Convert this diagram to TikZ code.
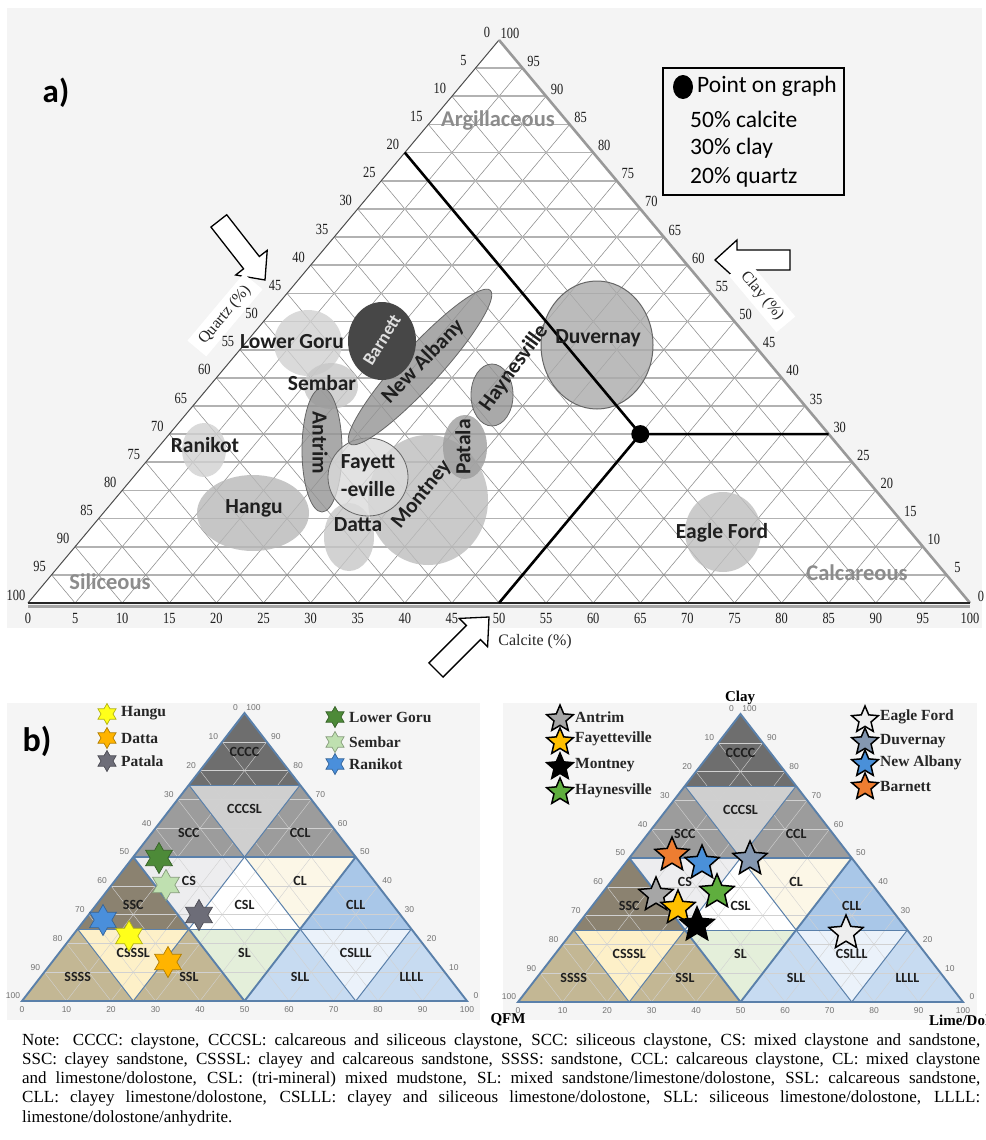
\documentclass[tikz,border=0pt]{standalone}
\usepackage{fontspec}
\setmainfont{Liberation Serif}
\newfontfamily\calf{Carlito}
\newfontfamily\tickf{Liberation Serif}[FakeStretch=0.8]
\newfontfamily\lsans{Liberation Sans}
\usetikzlibrary{shapes.geometric}
\definecolor{bgA}{HTML}{F4F4F4}
\definecolor{bgB}{HTML}{F5F5F5}
\definecolor{bord}{HTML}{5A80AA}
\definecolor{cCCCC}{HTML}{6E6E6E}
\definecolor{cSCC}{HTML}{9C9C9C}
\definecolor{cCCCSL}{HTML}{CFCFCF}
\definecolor{cSSC}{HTML}{8B8270}
\definecolor{cCS}{HTML}{EDEDEF}
\definecolor{cCL}{HTML}{FCF7E7}
\definecolor{cCLL}{HTML}{A9C7E8}
\definecolor{cSSSS}{HTML}{C3B794}
\definecolor{cCSSSL}{HTML}{FDF0C8}
\definecolor{cSL}{HTML}{E4EFDA}
\definecolor{cSLL}{HTML}{C7DBF1}
\definecolor{cCSLLL}{HTML}{EBF2FA}
\definecolor{sHangu}{HTML}{FFFF1A}
\definecolor{sDatta}{HTML}{FFB400}
\definecolor{sPatala}{HTML}{6D6D78}
\definecolor{sGoru}{HTML}{4D8A38}
\definecolor{sSembar}{HTML}{BFE0B0}
\definecolor{sRanikot}{HTML}{4A8FDB}
\definecolor{sAntrim}{HTML}{A6A6A6}
\definecolor{sFay}{HTML}{FFC000}
\definecolor{sHay}{HTML}{5FAE3E}
\definecolor{sEagle}{HTML}{EEEEEE}
\definecolor{sDuv}{HTML}{8497B0}
\definecolor{sNA}{HTML}{4A90D9}
\definecolor{sBar}{HTML}{ED7D31}
% ternary point inside a b-panel: lime fraction, clay fraction
\newcommand\T[2]{({445*(#1)+222.5*(#2)},{-288*(#2)})}
% vertex of the 25% grid
\newcommand\V[2]{({111.25*(#1)+55.625*(#2)},{-72*(#2)})}
\newcommand\up[3]{\fill[#3] \V{#1}{#2} -- \V{#1+1}{#2} -- \V{#1}{#2+1} -- cycle;}
\newcommand\dn[3]{\fill[#3] \V{#1+1}{#2} -- \V{#1}{#2+1} -- \V{#1+1}{#2+1} -- cycle;}
\newcommand\blockarr[3]{%
  \begin{scope}[shift={(#1,#2)},rotate=#3]
  \draw[line width=1.3, fill=white, line join=miter] (0,0) -- (-22,20) -- (-22,10) -- (-75,10) -- (-75,-10) -- (-22,-10) -- (-22,-20) -- cycle;
  \end{scope}}
\newcommand\bpanel[2]{%
  \begin{scope}[shift={(#1,#2)}]
  \up{0}{3}{cCCCC}
  \up{0}{2}{cSCC} \dn{0}{2}{cCCCSL} \up{1}{2}{cSCC}
  \up{0}{1}{cSSC} \dn{0}{1}{cCS} \up{1}{1}{white} \dn{1}{1}{cCL} \up{2}{1}{cCLL}
  \up{0}{0}{cSSSS} \dn{0}{0}{cCSSSL} \up{1}{0}{cSSSS} \dn{1}{0}{cSL} \up{2}{0}{cSLL} \dn{2}{0}{cCSLLL} \up{3}{0}{cSLL}
  \foreach \i in {1,...,9}{
    \pgfmathsetmacro\c{\i/10}
    \draw[fgrid] \T{0}{\c} -- \T{1-\c}{\c};
    \draw[fgrid] \T{\c}{0} -- \T{\c}{1-\c};
    \draw[fgrid] \T{1-\c}{0} -- \T{0}{1-\c};
  }
  \foreach \c in {0.25,0.75}{
    \draw[bthin] \T{0}{\c} -- \T{1-\c}{\c};
    \draw[bthin] \T{\c}{0} -- \T{\c}{1-\c};
    \draw[bthin] \T{1-\c}{0} -- \T{0}{1-\c};
  }
  \draw[bthick] \T{0}{0.5} -- \T{0.5}{0.5};
  \draw[bthick] \T{0.5}{0} -- \T{0.5}{0.5};
  \draw[bthick] \T{0.5}{0} -- \T{0}{0.5};
  \draw[bthick] \T{0}{0} -- \T{1}{0} -- \T{0}{1} -- cycle;
  \foreach \v in {0,10,...,100}{
    \pgfmathsetmacro\c{1-\v/100}
    \node[btk, xshift=-9pt, yshift=5pt] at \T{0}{\c} {\v};
    \pgfmathsetmacro\d{\v/100}
    \node[btk, xshift=9pt, yshift=5pt] at \T{1-\d}{\d} {\v};
    \node[btk, yshift=-9pt] at \T{\d}{0} {\v};
  }
  \node[zl] at \V{0.27}{3.46} {CCCC};
  \node[zl] at \V{1/3}{2+1/3} {SCC};
  \node[zl] at \V{2/3}{2+2/3} {CCCSL};
  \node[zl] at \V{1+1/3}{2+1/3} {CCL};
  \node[zl] at \V{1/3}{1+1/3} {SSC};
  \node[zl] at \V{2/3}{1+2/3} {CS};
  \node[zl] at \V{1+1/3}{1+1/3} {CSL};
  \node[zl] at \V{1+2/3}{1+2/3} {CL};
  \node[zl] at \V{2+1/3}{1+1/3} {CLL};
  \node[zl] at \V{1/3}{1/3} {SSSS};
  \node[zl] at \V{2/3}{2/3} {CSSSL};
  \node[zl] at \V{1+1/3}{1/3} {SSL};
  \node[zl] at \V{1+2/3}{2/3} {SL};
  \node[zl] at \V{2+1/3}{1/3} {SLL};
  \node[zl] at \V{2+2/3}{2/3} {CSLLL};
  \node[zl] at \V{3+1/3}{1/3} {LLLL};
  \end{scope}}
\begin{document}
\begin{tikzpicture}[x=1pt,y=-1pt,
  hgrid/.style={draw=black!30, line width=1.7},
  dgrid/.style={draw=black!45, line width=0.55},
  atk/.style={font=\tickf\fontsize{15.5}{16}\selectfont, text=black!88, inner sep=0},
  shale/.style={font=\calf\bfseries\fontsize{21.5}{28}\selectfont, text=black!88, inner sep=0, align=center},
  zone/.style={font=\calf\bfseries\fontsize{22.5}{24}\selectfont, text=black!45, inner sep=0},
  axl/.style={font=\fontsize{16}{18}\selectfont, text=black!85},
  lgd/.style={font=\calf\fontsize{23.5}{26}\selectfont, anchor=west, inner sep=0},
  fgrid/.style={draw=black!18, line width=0.4},
  bthin/.style={draw=bord, line width=1.0},
  bthick/.style={draw=bord, line width=1.9},
  btk/.style={font=\lsans\fontsize{8.5}{9}\selectfont, text=black!55, inner sep=0},
  zl/.style={font=\calf\bfseries\fontsize{14}{15}\selectfont, text=black!88, inner sep=0},
  bl/.style={font=\bfseries\fontsize{15.5}{16}\selectfont, anchor=west, inner sep=0, text=black!85},
  hexs/.style={star, star points=6, star point ratio=1.75, minimum size=#1, inner sep=0pt, line width=0.7},
  pents/.style={star, star points=5, star point ratio=2.2, minimum size=#1, inner sep=0pt, draw=black, line width=1.5},
  ell/.style={fill opacity=0.8}
]
\useasboundingbox (0,0) rectangle (985,1140);
\fill[white] (0,0) rectangle (985,1140);
% ================= part a =================
\fill[bgA] (7,8) rectangle (982,628);
\fill[white] (28,603) -- (499,40) -- (970,603) -- cycle;
\foreach \i in {1,...,19}{
  \pgfmathsetmacro\c{\i/20}
  \draw[hgrid] ({28+471*\c},{603-563*\c}) -- ({970-471*\c},{603-563*\c});
  \draw[dgrid] ({28+942*\c},603) -- ({28+942*\c+471*(1-\c)},{603-563*(1-\c)});
  \draw[dgrid] ({28+942*(1-\c)},603) -- ({28+471*(1-\c)},{603-563*(1-\c)});
}
% shale fields
\fill[ell, black!18] (308,343) ellipse [x radius=34, y radius=33];
\fill[ell, black!22] (331,386) ellipse [x radius=27, y radius=23];
\fill[ell, black!18] (204,450) ellipse [x radius=22, y radius=27];
\fill[ell, black!28] (253,513) ellipse [x radius=56, y radius=38];
\fill[ell, black!22] (349,537) ellipse [x radius=25, y radius=34];
\fill[ell, black!26] (428,500) ellipse [x radius=60, y radius=65];
\fill[ell, black!38] (465,447) ellipse [x radius=22, y radius=32];
\filldraw[ell, fill=black!42, draw=black!60, line width=0.8] (322,450) ellipse [x radius=20, y radius=62];
\filldraw[ell, fill=black!14, draw=black!60, line width=0.8] (368,477) ellipse [x radius=40, y radius=39];
\filldraw[ell, fill=black!42, draw=black!60, line width=0.8, rotate around={47.5:(420,367)}] (420,367) ellipse [x radius=104, y radius=20];
\fill[black!72] (382,341) ellipse [x radius=34, y radius=39];
\filldraw[ell, fill=black!42, draw=black!60, line width=0.8] (492,395) ellipse [x radius=21, y radius=31];
\filldraw[ell, fill=black!33, draw=black!60, line width=1] (597,345) ellipse [x radius=56, y radius=64];
\fill[ell, black!25] (723,532) ellipse [x radius=38, y radius=40];
% edges
\draw[black!70, line width=1] (28,603) -- (499,40);
\draw[black!40, line width=2.6] (499,40) -- (970,603);
\draw[black!35, line width=3] (28,606.5) -- (970,606.5);
\draw[black!85, line width=1.3] (28,603) -- (970,603);
% arrows and axis titles
\blockarr{265}{280}{-52}
\blockarr{715}{260}{180}
\blockarr{489}{617}{45}
\node[axl, rotate=50, fill=white, inner xsep=8, inner ysep=5] (qlab) at (225,315) {Quartz (\%)};
\node[axl, rotate=-50, fill=white, inner xsep=8, inner ysep=5] (clab) at (762,296) {Clay (\%)};
\node[axl, inner sep=0] (klab) at (535,642) {Calcite (\%)};
% ticks
\foreach \v in {0,5,...,100}{
  \pgfmathsetmacro\c{1-\v/100}
  \node[atk, xshift=-12pt, yshift=8pt] at ({28+471*\c},{603-563*\c}) {\v};
  \pgfmathsetmacro\d{\v/100}
  \node[atk, xshift=11pt, yshift=7pt] at ({970-471*\d},{603-563*\d}) {\v};
  \node[atk, yshift=-15pt] at ({28+9.42*\v},603) {\v};
}
% point construction
\coordinate (P) at (640.3,434.1);
\coordinate (Pq) at (404.8,152.6);
\coordinate (Pc) at (828.7,434.1);
\coordinate (Pk) at (499,603);
\draw[line width=2.6] (Pq) -- (P) -- (Pc);
\draw[line width=2.6] (P) -- (Pk);
\node[circle, fill=black, minimum size=18, inner sep=0] (dot) at (P) {};
% field labels
\node[zone] (arg) at (498,121) {Argillaceous};
\node[zone] (sil) at (110,582) {Siliceous};
\node[zone] (calc) at (857,573) {Calcareous};
\node[shale] (lg) at (292,342) {Lower Goru};
\node[shale] (sem) at (322,383) {Sembar};
\node[shale] (ran) at (205,445) {Ranikot};
\node[shale] (han) at (254,508) {Hangu};
\node[shale] (dat) at (358,525) {Datta};
\node[shale] (eag) at (722,533) {Eagle Ford};
\node[shale] (duv) at (598,338) {Duvernay};
\node[shale, rotate=-90] (ant) at (320,443) {Antrim};
\node[shale, rotate=90] (pat) at (463,447) {Patala};
\node[shale] (fay) at (368,476) {Fayett\\-eville};
\node[shale, rotate=51] (mon) at (422,495) {Montney};
\node[shale, rotate=46] (nal) at (423,362) {New Albany};
\node[shale, rotate=54] (hay) at (514,368) {Haynesville};
\node[shale, rotate=58, text=black!12, font=\calf\bfseries\fontsize{18}{20}\selectfont] (bar) at (382,340) {Barnett};
% legend box
\draw[line width=1.1] (663,68) rectangle (844,195);
\fill (683,87) ellipse [x radius=10, y radius=12];
\node[lgd] (l1) at (697,86) {Point on graph};
\node[lgd] (l2) at (690,119) {50\% calcite};
\node[lgd] (l3) at (690,148) {30\% clay};
\node[lgd] (l4) at (690,177) {20\% quartz};
\node[font=\calf\bfseries\fontsize{33}{36}\selectfont, inner sep=0] (alab) at (56,93) {a)};
% ================= part b =================
\fill[bgB] (7,703) rectangle (480,1020);
\fill[bgB] (503,703) rectangle (977,1020);
\bpanel{22}{1001}
\bpanel{518}{1002}
\node[font=\calf\bfseries\fontsize{34}{36}\selectfont, inner sep=0] (blab) at (37,741) {b)};
% left legend
\node[hexs=21, fill=sHangu, draw=sHangu!70!black] (lh) at (107,714) {};
\node[bl] (lht) at (121,713) {Hangu};
\node[hexs=21, fill=sDatta, draw=sDatta!70!black] (ld) at (107,738) {};
\node[bl] (ldt) at (121,738) {Datta};
\node[hexs=21, fill=sPatala, draw=sPatala!70!black] (lp) at (107,761) {};
\node[bl] (lpt) at (121,761) {Patala};
\node[hexs=21, fill=sGoru, draw=sGoru!70!black] (lg2) at (335,717) {};
\node[bl] (lg2t) at (349,717) {Lower Goru};
\node[hexs=21, fill=sSembar, draw=sSembar!70!black] (ls) at (335,742) {};
\node[bl] (lst) at (349,742) {Sembar};
\node[hexs=21, fill=sRanikot, draw=sRanikot!70!black] (lr) at (335,764) {};
\node[bl] (lrt) at (349,764) {Ranikot};
% left panel stars
\node[hexs=31, fill=sGoru, draw=sGoru!70!black] (pg) at (159,858) {};
\node[hexs=31, fill=sSembar, draw=sSembar!70!black] (ps) at (166,885) {};
\node[hexs=31, fill=sPatala, draw=sPatala!70!black] (pp) at (199,915) {};
\node[hexs=31, fill=sRanikot, draw=sRanikot!70!black] (pr) at (103,920) {};
\node[hexs=31, fill=sHangu, draw=sHangu!70!black] (ph) at (129,936) {};
\node[hexs=31, fill=sDatta, draw=sDatta!70!black] (pd) at (168,962) {};
% right legend
\node[pents=28, fill=sAntrim] (ra) at (560,719) {};
\node[bl] (rat) at (575,717) {Antrim};
\node[pents=28, fill=sFay] (rf) at (560,742) {};
\node[bl] (rft) at (575,739) {Fayetteville};
\node[pents=28, fill=black] (rm) at (560,767) {};
\node[bl] (rmt) at (575,765) {Montney};
\node[pents=28, fill=sHay] (rh) at (560,792) {};
\node[bl] (rht) at (575,791) {Haynesville};
\node[pents=28, fill=sEagle] (re) at (865,720) {};
\node[bl] (ret) at (880,717) {Eagle Ford};
\node[pents=28, fill=sDuv] (rd) at (865,742) {};
\node[bl] (rdt) at (880,741) {Duvernay};
\node[pents=28, fill=sNA] (rn) at (865,764) {};
\node[bl] (rnt) at (880,763) {New Albany};
\node[pents=28, fill=sBar] (rb) at (865,787) {};
\node[bl] (rbt) at (880,786) {Barnett};
% right panel stars
\node[pents=36, fill=sBar] (qb) at (672,855) {};
\node[pents=36, fill=sNA] (qn) at (702,863) {};
\node[pents=36, fill=sDuv] (qd) at (750,859) {};
\node[pents=36, fill=sAntrim] (qa) at (656,895) {};
\node[pents=36, fill=sHay] (qh) at (717,892) {};
\node[pents=36, fill=sFay] (qf) at (678,908) {};
\node[pents=36, fill=black] (qm) at (697,925) {};
\node[pents=36, fill=sEagle] (qe) at (846,933) {};
% axis names
\node[font=\bfseries\fontsize{15}{16}\selectfont, inner sep=0] (clay) at (740,698) {Clay};
\node[font=\bfseries\fontsize{15}{16}\selectfont, inner sep=0] (qfm) at (508,1020) {QFM};
\node[font=\bfseries\fontsize{15}{16}\selectfont, inner sep=0, anchor=west] (lime) at (929,1020) {Lime/Dol};
% ================= note =================
\begin{scope}[every node/.style={anchor=base west, inner sep=0, font=\fontsize{17}{19}\selectfont}]
\node (n1) at (22,1045) {\makebox[958pt][s]{Note: CCCC: claystone, CCCSL: calcareous and siliceous claystone, SCC: siliceous claystone, CS: mixed claystone and sandstone,}};
\node (n2) at (22,1064.3) {\makebox[958pt][s]{SSC: clayey sandstone, CSSSL: clayey and calcareous sandstone, SSSS: sandstone, CCL: calcareous claystone, CL: mixed claystone}};
\node (n3) at (22,1083.6) {\makebox[958pt][s]{and limestone/dolostone, CSL: (tri-mineral) mixed mudstone, SL: mixed sandstone/limestone/dolostone, SSL: calcareous sandstone,}};
\node (n4) at (22,1102.9) {\makebox[958pt][s]{CLL: clayey limestone/dolostone, CSLLL: clayey and siliceous limestone/dolostone, SLL: siliceous limestone/dolostone, LLLL:}};
\node (n5) at (22,1122.2) {limestone/dolostone/anhydrite.};
\end{scope}
\end{tikzpicture}
\end{document}
